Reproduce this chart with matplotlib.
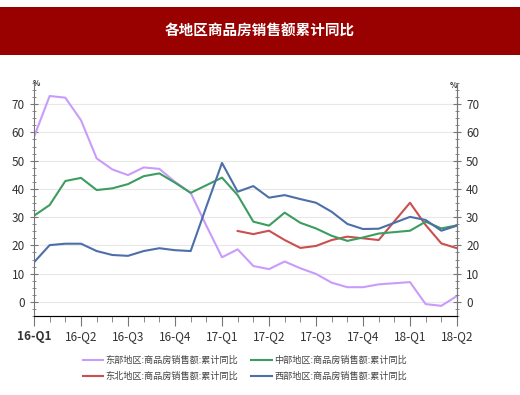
import matplotlib.pyplot as plt
from matplotlib.patches import Rectangle
from matplotlib.ticker import MultipleLocator
import numpy as np

plt.rcParams['font.family'] = ['Noto Sans CJK SC', 'DejaVu Sans']

# 月度数据 16-Q1 ~ 18-Q2
quarters = ['16-Q1', '16-Q2', '16-Q3', '16-Q4', '17-Q1', '17-Q2', '17-Q3', '17-Q4', '18-Q1', '18-Q2']
east = [58.4, 72.9, 72.3, 64.3, 50.8, 46.9, 44.9, 47.6, 47.1, 42.5, 38.6, 27.0, 15.8, 18.6,
        12.7, 11.6, 14.3, 11.9, 9.9, 6.8, 5.2, 5.2, 6.2, 6.6, 7.0, -0.8, -1.4, 2.1]
central = [30.5, 34.3, 42.8, 43.9, 39.6, 40.2, 41.7, 44.5, 45.5, 42.2, 38.6, 41.3, 44.0, 37.8,
           28.4, 27.0, 31.6, 28.0, 26.0, 23.4, 21.6, 22.8, 24.2, 24.7, 25.2, 28.4, 26.0, 27.1]
northeast = [np.nan] * 13 + [25.1, 24.0, 25.2, 21.9, 19.1, 19.8, 21.9, 23.1, 22.5, 21.9,
                             28.5, 35.1, 27.2, 20.7, 19.0]
west = [14.0, 20.1, 20.6, 20.6, 18.0, 16.6, 16.3, 18.0, 19.0, 18.3, 18.0, 33.7, 49.2, 39.0,
        41.0, 36.9, 37.8, 36.4, 35.1, 31.9, 27.6, 25.8, 25.9, 28.0, 30.1, 29.0, 25.2, 27.0]
labels = ['东部地区:商品房销售额:累计同比', '东北地区:商品房销售额:累计同比',
          '中部地区:商品房销售额:累计同比', '西部地区:商品房销售额:累计同比']

x = np.arange(len(east))

fig = plt.figure(figsize=(5.2, 3.95), dpi=100)
fig.patches.append(Rectangle((0, 1 - 55 / 395), 1, 48 / 395, transform=fig.transFigure,
                             facecolor='#990000', edgecolor='none', zorder=0))
fig.text(0.5, 1 - 31 / 395, '各地区商品房销售额累计同比', color='white', fontsize=10.5,
         fontweight='bold', ha='center', va='center')

ax = fig.add_axes((34 / 520, 1 - 316 / 395, (457 - 34) / 520, (316 - 83) / 395))
l1, = ax.plot(x, east, color='#C99CFA', lw=1.5)
l2, = ax.plot(x, northeast, color='#C9504E', lw=1.5)
l3, = ax.plot(x, central, color='#3D9C60', lw=1.5)
l4, = ax.plot(x, west, color='#4D6FA8', lw=1.5)

ax.set_xlim(0, 27)
ax.set_ylim(-5, 77.5)
ax.set_xticks(np.arange(0, 28, 3))
ax.set_xticklabels(quarters)
ax.xaxis.set_minor_locator(MultipleLocator(1))
ax.set_yticks(np.arange(0, 71, 10))
ax.yaxis.set_minor_locator(MultipleLocator(2.5))
ax.grid(axis='y', color='#e8e8e8', lw=0.8)
ax.set_axisbelow(True)
ax.spines['top'].set_visible(False)
for s in ['left', 'right', 'bottom']:
    ax.spines[s].set_color('#777777')
ax.tick_params(axis='x', which='major', direction='out', length=7, colors='#777777',
               labelcolor='#333333', labelsize=8.5, pad=3)
ax.tick_params(axis='x', which='minor', direction='out', length=4, colors='#777777')
ax.tick_params(axis='y', which='major', direction='inout', length=6, colors='#777777',
               labelcolor='#333333', labelsize=8.5)
ax.tick_params(axis='y', which='minor', direction='inout', length=3, colors='#777777')
ax.get_xticklabels()[0].set_fontweight('bold')

ax2 = ax.twinx()
ax2.set_ylim(ax.get_ylim())
ax2.set_yticks(np.arange(0, 71, 10))
ax2.yaxis.set_minor_locator(MultipleLocator(2.5))
ax2.spines['top'].set_visible(False)
ax2.spines['left'].set_visible(False)
ax2.spines['right'].set_color('#777777')
ax2.tick_params(axis='y', which='major', direction='inout', length=6, colors='#777777',
                labelcolor='#333333', labelsize=8.5)
ax2.tick_params(axis='y', which='minor', direction='inout', length=3, colors='#777777')

fig.text(36 / 520, 1 - 84 / 395, '%', fontsize=5.5, fontweight='bold', color='#333333',
         ha='center', va='center')
fig.text(453 / 520, 1 - 85 / 395, '%', fontsize=5.5, fontweight='bold', color='#333333',
         ha='center', va='center')

fig.legend([l1, l2, l3, l4], labels, ncol=2, loc='center', bbox_to_anchor=(0.471, 1 - 368.5 / 395),
           frameon=False, fontsize=6.6, handlelength=2.2, columnspacing=1.4, labelspacing=0.75,
           handletextpad=0.3, labelcolor='#444444')

fig.savefig('out.png', dpi=100)
